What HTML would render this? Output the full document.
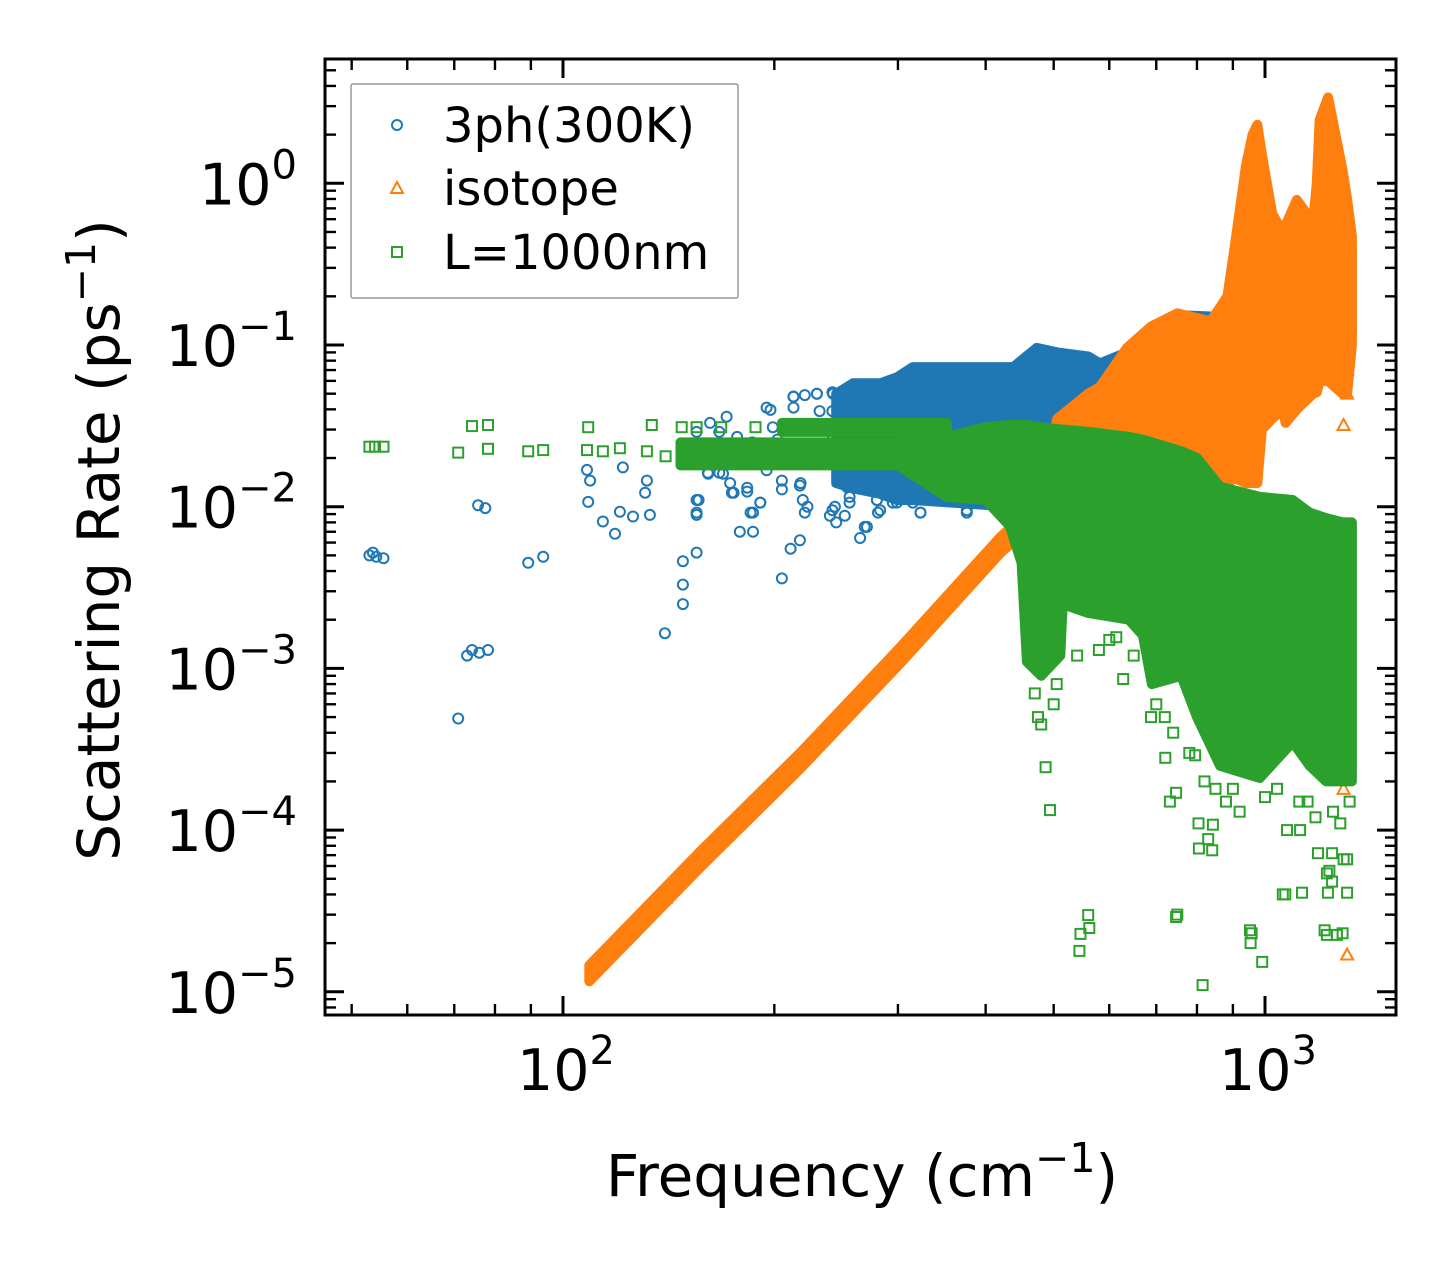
<!DOCTYPE html>
<html><head><meta charset="utf-8">
<style>
html,body{margin:0;padding:0;background:#fff;}
svg{display:block;font-family:"DejaVu Sans","Liberation Sans",sans-serif;}
</style></head>
<body>
<svg id="chart" width="1455" height="1265" viewBox="0 0 1455 1265" xmlns="http://www.w3.org/2000/svg">
  <rect x="0" y="0" width="1455" height="1265" fill="#fff"/>
  <defs><clipPath id="plotclip"><rect x="325" y="59" width="1071" height="956"/></clipPath></defs>
  <g id="marks" clip-path="url(#plotclip)"></g>
  <g id="axes"></g>
  <text x="862" y="1196" font-size="58" text-anchor="middle">Frequency (cm<tspan font-size="41" dy="-24">−1</tspan><tspan dy="24">)</tspan></text>
  <text transform="translate(119,540) rotate(-90)" font-size="58" text-anchor="middle">Scattering Rate (ps<tspan font-size="41" dy="-24">−1</tspan><tspan dy="24">)</tspan></text>
  <g>
    <rect x="351" y="84" width="387" height="214" fill="#fff" fill-opacity="0.8" stroke="#999" stroke-width="1.5" rx="2"/>
    <g>
      <circle cx="397" cy="125" r="5" fill="none" stroke="#1f77b4" stroke-width="2"/>
      <text x="443" y="142" font-size="48">3ph(300K)</text>
    </g>
    <g>
      <polygon points="397,182 403,193 391,193" fill="none" stroke="#ff7f0e" stroke-width="2"/>
      <text x="443" y="205" font-size="48">isotope</text>
    </g>
    <g>
      <rect x="392" y="247" width="10" height="10" fill="none" stroke="#2ca02c" stroke-width="2"/>
      <text x="443" y="269" font-size="48">L=1000nm</text>
    </g>
  </g>
</svg>
<script>
// ---------- data ----------
const blueBandF  = [245,259,283,299,315,438,473,506,560,582,636,750,837,900,1000,1100,1200,1330];
const blueBandHi = [0.05,0.058,0.058,0.063,0.073,0.073,0.096,0.09,0.085,0.077,0.09,0.153,0.15,0.15,0.15,0.2,0.3,0.39];
const blueBandLo = [0.014,0.013,0.012,0.011,0.011,0.01,0.01,0.015,0.02,0.03,0.04,0.05,0.06,0.07,0.09,0.1,0.1,0.12];
const blueF = [53,53.6,54.2,55.5,70.9,73,74.2,76,78.2,75.7,77.5,89.2,93.7,108.2,109.3,108.6,114,118.6,120.5,121.7,125.8,131.7,130.9,133,139.7,148.2,148.2,148.2,155,155,155,160.8,167,174,178.6,183,186.5,191,186.5,197.5,199,205,205,211,217.5,217.5,219.6,221,213,230,242.5,240,244,256,252,265,269,280,281,299,323,352,376,
  195,213,221,230,242,213,232,242,171,162,155,167,177,186,202,242,161,169,173,175,183,205,218,195,254,256,280,295,315,341,376,156,155,191,185,223,242,283,323,245,271];
const blueV = [0.0050,0.0052,0.0049,0.0048,0.00049,0.0012,0.0013,0.00125,0.0013,0.0102,0.0098,0.0045,0.0049,0.0169,0.0145,0.0107,0.0081,0.0068,0.0093,0.0175,0.0087,0.0145,0.0122,0.0089,0.00165,0.0046,0.0033,0.0025,0.0052,0.011,0.0089,0.0162,0.0162,0.0122,0.0070,0.0131,0.0092,0.0106,0.0070,0.0397,0.031,0.0036,0.0128,0.0055,0.0062,0.0135,0.011,0.0092,0.0478,0.050,0.050,0.0088,0.010,0.0106,0.0088,0.0064,0.0075,0.011,0.0092,0.0106,0.0092,0.011,0.0092,
  0.041,0.048,0.049,0.050,0.051,0.041,0.039,0.039,0.036,0.033,0.029,0.029,0.027,0.025,0.026,0.026,0.016,0.016,0.014,0.0122,0.0124,0.0145,0.014,0.0168,0.0132,0.0115,0.011,0.0106,0.0106,0.0115,0.0095,0.011,0.0092,0.0106,0.0092,0.010,0.0095,0.0095,0.0092,0.008,0.0075];
const isoLineF = [109,157,218,302,420,477];
const isoLineV = [1.3e-5,6.6e-5,2.7e-4,1.2e-3,5.8e-3,9.5e-3];
const isoBandF  = [470,506,560,582,636,688,750,837,884,905,940,960,975,990,1024,1059,1070,1110,1171,1185,1196,1230,1290,1309,1330];
const isoBandHi = [0.009,0.035,0.05,0.055,0.096,0.13,0.157,0.14,0.2,0.4,1.3,2.0,2.3,1.5,0.65,0.5,0.55,0.79,0.57,1.0,2.46,3.4,1.2,0.8,0.47];
const isoBandLo = [0.006,0.028,0.016,0.018,0.02,0.02,0.018,0.014,0.014,0.015,0.014,0.014,0.014,0.03,0.035,0.04,0.033,0.04,0.05,0.051,0.06,0.06,0.05,0.05,0.1];
const isoF = [140,1294,1309,1294,1294,1309,1309,1309];
const isoV = [3.8e-5,0.032,1.7e-5,6.3e-4,1.8e-4,0.05,0.07,0.1];
const grnBandF  = [147,200,300,352,400,433,450,458,480,511,515,560,640,670,690,760,800,863,983,1095,1158,1222,1290,1330];
const grnBandHi = [0.025,0.025,0.025,0.027,0.031,0.032,0.032,0.032,0.031,0.03,0.03,0.029,0.027,0.026,0.025,0.022,0.02,0.0133,0.0115,0.011,0.0092,0.0085,0.008,0.008];
const grnBandLo = [0.018,0.018,0.018,0.0115,0.011,0.0076,0.0045,0.0011,0.0009,0.0012,0.0025,0.0022,0.002,0.0016,0.0008,0.0009,0.0005,0.00025,0.00021,0.00035,0.00025,0.0002,0.0002,0.0002];
const grnLineF  = [205,260,352];
const grnLineHi = [0.033,0.033,0.033];
const grnLineLo = [0.029,0.029,0.029];
const grnF = [53,54,55.5,70.9,74.2,78.2,78.2,89.2,93.7,108.6,108.2,114,120.5,131.7,133.8,140,147.6,155,168,188,
  487,494,628,614,560,562,546,544,747,747,732,795,688,721,750,804,805,815,843,830,841,952,957,954,991,1060,1069,1075,1119,1122,1129,1190,1216,1225,1225,1229,1235,1246,1246,1266,1290,1294,1309,1309,
  470,475,480,500,505,540,580,600,650,700,720,740,780,820,850,880,900,920,1000,1040,1150,1180,1250,1280,1320];
const grnV = [0.0235,0.0235,0.0235,0.0216,0.0315,0.032,0.0228,0.022,0.0224,0.031,0.0224,0.022,0.023,0.022,0.032,0.0205,0.031,0.031,0.031,0.031,
  2.45e-4,1.33e-4,8.6e-4,1.56e-3,2.98e-5,2.48e-5,2.28e-5,1.79e-5,2.9e-5,1.7e-4,1.5e-4,2.9e-4,5.0e-4,2.8e-4,3.0e-5,1.1e-4,7.7e-5,1.1e-5,1.08e-4,8.8e-5,7.5e-5,2.4e-5,2.3e-5,2.0e-5,1.53e-5,4.0e-5,4.0e-5,1.0e-4,1.5e-4,1.0e-4,4.1e-5,7.2e-5,2.4e-5,5.4e-5,2.25e-5,4.1e-5,5.6e-5,7.2e-5,4.8e-5,2.25e-5,2.3e-5,6.6e-5,6.6e-5,4.1e-5,
  7e-4,5e-4,4.5e-4,6e-4,8e-4,1.2e-3,1.3e-3,1.5e-3,1.2e-3,6e-4,5e-4,4e-4,3e-4,2e-4,1.8e-4,1.5e-4,1.8e-4,1.3e-4,1.6e-4,1.8e-4,1.5e-4,1.2e-4,1.3e-4,1.1e-4,1.5e-4];
const xMajor = [100,1000];
const xMajorLabels = ["2","3"];
const yMajor = [1,0.1,0.01,0.001,0.0001,0.00001];
const yMajorLabels = ["0","−1","−2","−3","−4","−5"];

// ---------- scales ----------
const X = f => 563 + 702*(Math.log10(f) - 2);
const Y = v => 183.3 - 161.7*Math.log10(v);
const NS = "http://www.w3.org/2000/svg";
const marks = document.getElementById('marks');
const axes = document.getElementById('axes');
const BLUE="#1f77b4", ORANGE="#ff7f0e", GREEN="#2ca02c";

function mk(tag, attrs, parent){
  const e=document.createElementNS(NS,tag);
  for(const k in attrs) e.setAttribute(k,attrs[k]);
  parent.appendChild(e); return e;
}
function band(F,Lo,Hi,color,name){
  const pts=[];
  for(let i=0;i<F.length;i++) pts.push(X(F[i]).toFixed(1)+','+Y(Hi[i]).toFixed(1));
  for(let i=F.length-1;i>=0;i--) pts.push(X(F[i]).toFixed(1)+','+Y(Lo[i]).toFixed(1));
  const p=mk('polygon',{points:pts.join(' '),fill:color,stroke:color,'stroke-width':10,'stroke-linejoin':'round'},marks);
  
  
}
function circles(F,V,name){
  const g=mk('g',{},marks);
  
  
  for(let i=0;i<F.length;i++){
    const c=mk('circle',{cx:X(F[i]).toFixed(1),cy:Y(V[i]).toFixed(1),r:5,fill:'none',stroke:BLUE,'stroke-width':2},g);
    
    
  }
}
function tris(F,V,name){
  const g=mk('g',{},marks);
  
  
  for(let i=0;i<F.length;i++){
    const x=X(F[i]), y=Y(V[i]);
    const t=mk('polygon',{points:`${x},${y-6} ${x+6},${y+5} ${x-6},${y+5}`,fill:'none',stroke:ORANGE,'stroke-width':2},g);
    
    
  }
}
function squares(F,V,name){
  const g=mk('g',{},marks);
  
  
  for(let i=0;i<F.length;i++){
    const s=mk('rect',{x:(X(F[i])-5).toFixed(1),y:(Y(V[i])-5).toFixed(1),width:10,height:10,fill:'none',stroke:GREEN,'stroke-width':2},g);
    
    
  }
}

band(blueBandF,blueBandLo,blueBandHi,BLUE,'band-3ph');
circles(blueF,blueV,'series-3ph-points');
const isoLo=isoLineV.map(v=>v/1.12), isoHi=isoLineV.map(v=>v*1.12);
band(isoLineF,isoLo,isoHi,ORANGE,'line-isotope');
band(isoBandF,isoBandLo,isoBandHi,ORANGE,'band-isotope');
tris(isoF,isoV,'series-isotope-points');
band(grnBandF,grnBandLo,grnBandHi,GREEN,'band-L1000nm');
band(grnLineF,grnLineLo,grnLineHi,GREEN,'band-L1000nm-upper');
squares(grnF,grnV,'series-L1000nm-points');

// ---------- axes ----------
const L=325,R=1396,T=59,B=1015;
const frame=mk('rect',{x:L,y:T,width:R-L,height:B-T,fill:'none',stroke:'#000','stroke-width':3},axes);


function tick(x1,y1,x2,y2,w){ mk('line',{x1,y1,x2,y2,stroke:'#000','stroke-width':w},axes); }
for(let d=1;d<=3;d++){
  for(let m=1;m<=9;m++){
    const f=m*Math.pow(10,d); const x=X(f);
    if(x<L+1||x>R-1) continue;
    const len = m===1?19:11, w = m===1?3:2.4;
    tick(x,B,x,B-len,w); tick(x,T,x,T+len,w);
  }
}
for(let d=-6;d<=1;d++){
  for(let m=1;m<=9;m++){
    const v=m*Math.pow(10,d); const y=Y(v);
    if(y<T+1||y>B-1) continue;
    const len = m===1?19:11, w = m===1?3:2.4;
    tick(L,y,L+len,y,w); tick(R,y,R-len,y,w);
  }
}
xMajor.forEach((f,i)=>{
  const t=mk('text',{x:X(f)+3,y:1090,'font-size':57,'text-anchor':'middle'},axes);
  
  
  t.innerHTML='10<tspan font-size="40" dy="-26">'+xMajorLabels[i]+'</tspan>';
});
yMajor.forEach((v,i)=>{
  const t=mk('text',{x:297,y:Y(v)+21,'font-size':57,'text-anchor':'end'},axes);
  
  
  t.innerHTML='10<tspan font-size="40" dy="-26">'+yMajorLabels[i]+'</tspan>';
});
</script>
</body></html>
